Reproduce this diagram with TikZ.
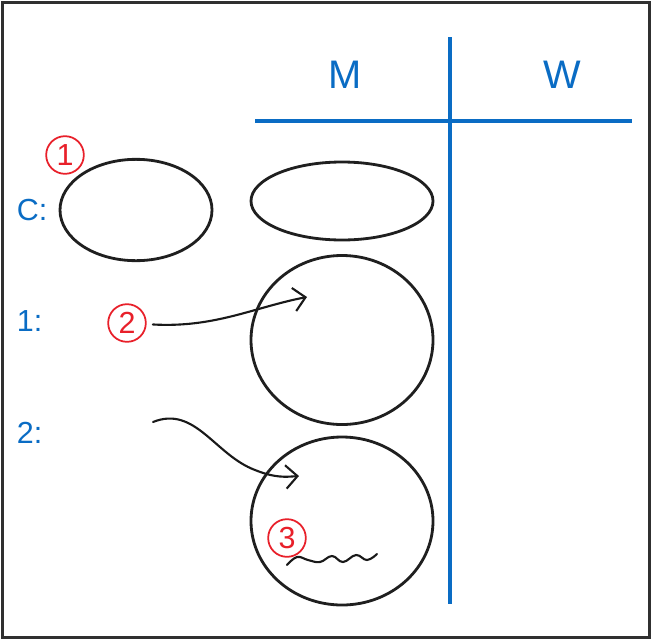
\documentclass[tikz,border=0pt]{standalone}
\usepackage{fontspec}
\setmainfont{Liberation Sans}
\usetikzlibrary{shapes.geometric,arrows.meta}
\definecolor{penblue}{RGB}{10,108,196}
\definecolor{penred}{RGB}{232,32,42}
\definecolor{framegray}{RGB}{48,48,48}

\begin{document}
\begin{tikzpicture}[x=0.03cm,y=-0.03cm]
  \tikzstyle{every node}=[inner sep=0pt, outer sep=0pt]
  \tikzstyle{head}=[font=\fontsize{34}{34}\selectfont, text=penblue]
  \tikzstyle{rowlabel}=[font=\fontsize{26}{26}\selectfont, text=penblue, anchor=west]
  \tikzstyle{blob}=[ellipse, draw=black!88, line width=2.4pt]
  \tikzstyle{numcirc}=[circle, draw=penred, line width=1.5pt, minimum size=1.13cm,
                text=penred, font=\fontsize{26}{26}\selectfont]
  \tikzstyle{pen}=[line width=1.8pt, line cap=round, line join=round, black!90]

  \useasboundingbox (0,0) rectangle (651,639);
  \draw[framegray, line width=2.6pt] (2.5,2.5) rectangle (649.5,637.5);

  % Table lines and heads
  \draw[penblue, line width=3.4pt] (255,121) -- (632,121);
  \draw[penblue, line width=3.4pt] (450,37) -- (450,604);
  \node (headM) [head] at (345,75) {M};
  \node (headW) [head] at (562,75) {W};

  % Row labels
  \node (rowC) [rowlabel] at (17,210) {C:};
  \node (row1) [rowlabel] at (17,321) {1:};
  \node (row2) [rowlabel] at (17,433) {2:};

  % Shapes
  \node (blobC) [blob, minimum width=4.56cm, minimum height=3.04cm] at (136,210) {};
  \node (blobM0) [blob, minimum width=5.46cm, minimum height=2.34cm] at (342,201) {};
  \node (blobM1) [blob, minimum width=5.46cm, minimum height=5.07cm] at (342,340) {};
  \node (blobM2) [blob, minimum width=5.46cm, minimum height=5.04cm] at (342,521) {};

  % Red numbers
  \node (num1) [numcirc] at (65,155) {1};
  \node (num2) [numcirc] at (127,323) {2};
  \node (num3) [numcirc] at (287,538) {3};

  % Arrows
  \coordinate (tip2) at (307,297);
  \coordinate (from3) at (153,422);
  \coordinate (tip3) at (299,476);
  \draw[pen, -{Straight Barb[length=10pt,width=20pt]}, shorten <=6pt]
    (num2) .. controls (215,328) and (255,307) .. (tip2);
  \draw[pen, -{Straight Barb[length=10pt,width=20pt]}]
    (from3) .. controls (195,405) and (215,455) .. (255,470)
            .. controls (275,478) and (285,477) .. (tip3);

  % Squiggle
  \draw[pen] plot[smooth, tension=0.7] coordinates {(287,565) (297,557) (308,560) (320,562)
    (332,556) (343,562) (356,555) (367,560) (377,554)};
\end{tikzpicture}
\end{document}
